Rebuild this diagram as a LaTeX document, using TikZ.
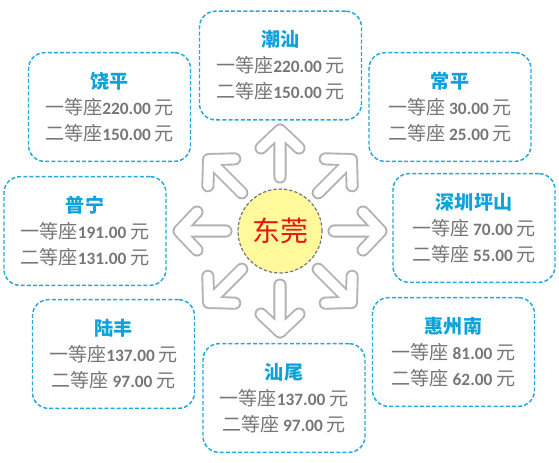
\documentclass[tikz,border=0pt]{standalone}
\usepackage{fontspec}
\setmainfont{Carlito}
\newfontfamily\hei{Noto Sans CJK SC}
\usepackage{tikz}
\usetikzlibrary{calc}
\definecolor{keret}{HTML}{22A8DE}
\definecolor{cimszin}{HTML}{0EA2DA}
\definecolor{szurke}{HTML}{767676}
\definecolor{nyilszin}{HTML}{B2B2B2}
\definecolor{sarga}{HTML}{FFF99C}
\definecolor{piros}{HTML}{E8140F}
\newcommand{\cim}[1]{{\hei\color{cimszin}#1}}
\newcommand{\jegy}[2]{{\mdseries\hei #1}{\fontsize{13}{19.5}\selectfont#2}{\mdseries\hei 元}}
\tikzset{
  allo/.style={draw=keret,dashed,dash pattern=on 3pt off 1.6pt,line width=1.1pt,
    rounded corners=12pt,minimum width=121.5pt,minimum height=81.5pt,align=center,
    text=szurke,font=\bfseries\fontsize{14.3}{19.5}\selectfont},
  kozep/.style={circle,draw=szurke,dashed,dash pattern=on 2.5pt off 1.5pt,line width=0.9pt,
    fill=sarga,minimum size=63pt,inner sep=0pt,text=piros,font=\hei\fontsize{21}{21}\selectfont},
  kulso/.style={draw=nyilszin,line width=9.8pt,line cap=round,line join=round},
  belso/.style={draw=white,line width=7pt,line cap=round,line join=round},
}
\begin{document}
\begin{tikzpicture}[x=0.75pt,y=-0.75pt]
  \useasboundingbox (0,0) rectangle (559,462);
  \coordinate (kp) at (280,231);
  \foreach \st in {kulso,belso}
    \foreach \a in {0,45,...,315}
      \draw[\st] ($(kp)+(\a:54)$) -- ($(kp)+(\a:101)$)
        ($(kp)+(\a:83)+(\a+90:19)$) -- ($(kp)+(\a:101)$) -- ($(kp)+(\a:83)+(\a-90:19)$);
  \node[kozep] (dg) at (kp) {东莞};
  \node[allo] (cs) at (280.5,65.5) {\cim{潮汕}\\\jegy{一等座}{220.00 }\\\jegy{二等座}{150.00 }};
  \node[allo] (rp) at (109.5,107) {\cim{饶平}\\\jegy{一等座}{220.00 }\\\jegy{二等座}{150.00 }};
  \node[allo] (cp) at (450,107) {\cim{常平}\\\jegy{一等座}{ 30.00 }\\\jegy{二等座}{ 25.00 }};
  \node[allo] (pn) at (85,231) {\cim{普宁}\\\jegy{一等座}{191.00 }\\\jegy{二等座}{131.00 }};
  \node[allo] (sz) at (474,228) {\cim{深圳坪山}\\\jegy{一等座}{ 70.00 }\\\jegy{二等座}{ 55.00 }};
  \node[allo] (lf) at (113.5,354) {\cim{陆丰}\\\jegy{一等座}{137.00 }\\\jegy{二等座}{ 97.00 }};
  \node[allo] (hz) at (453.5,352) {\cim{惠州南}\\\jegy{一等座}{ 81.00 }\\\jegy{二等座}{ 62.00 }};
  \node[allo] (sw) at (284,398) {\cim{汕尾}\\\jegy{一等座}{137.00 }\\\jegy{二等座}{ 97.00 }};
\end{tikzpicture}
\end{document}
